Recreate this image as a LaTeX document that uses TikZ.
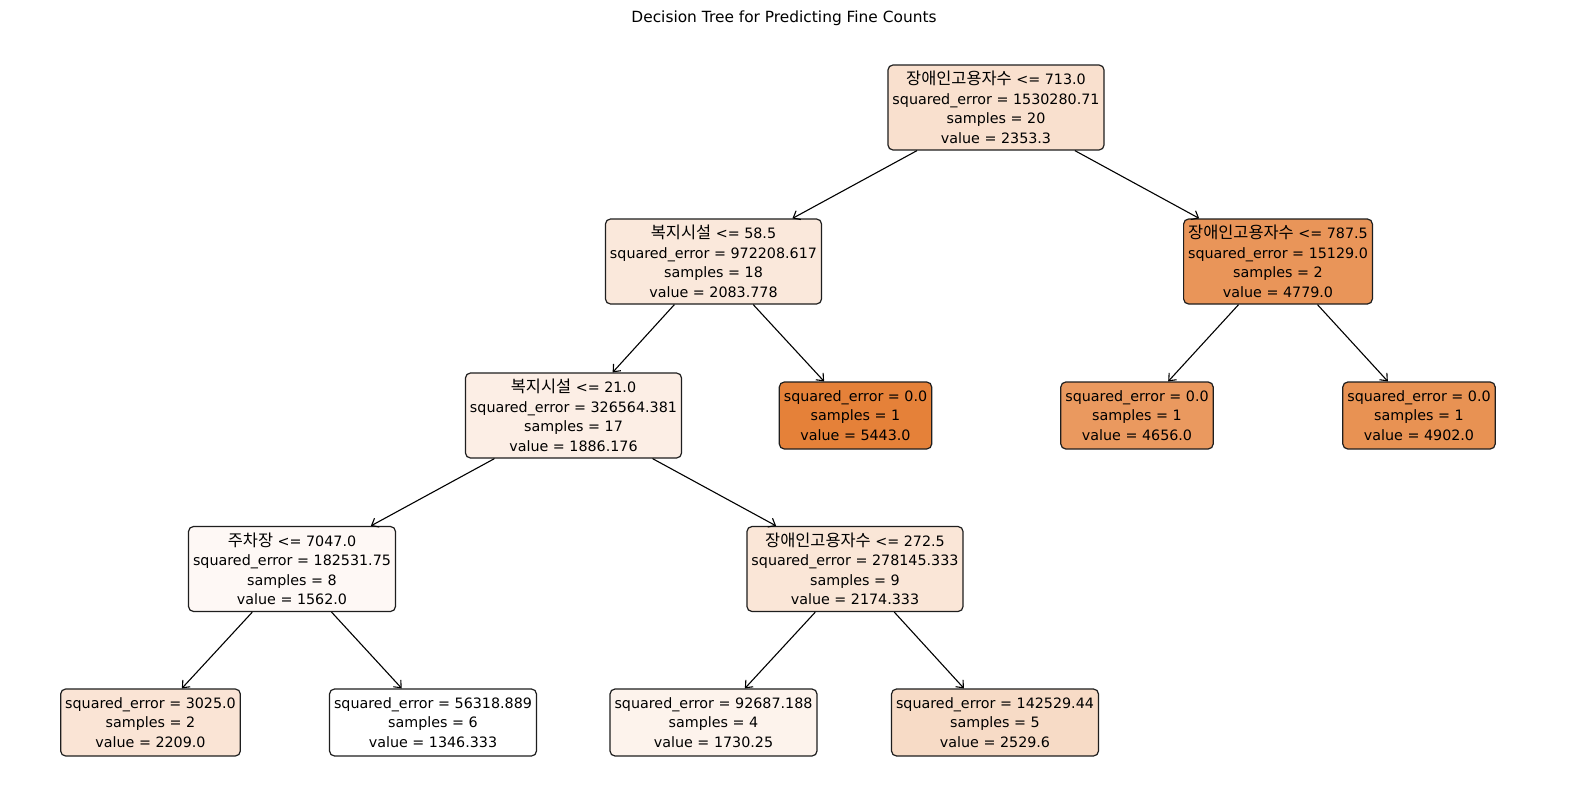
\documentclass[tikz,border=0pt]{standalone}
\usepackage{fontspec}
\setmainfont{DejaVu Sans}
\newfontfamily\kr{Noto Sans CJK KR}
\usepackage{tikz}
\usetikzlibrary{arrows.meta}
\definecolor{treeorange}{RGB}{229,129,57}
\definecolor{boxedge}{RGB}{30,30,30}
\newcommand{\feat}[1]{{\kr\fontsize{16.4}{19.5}\selectfont #1}}

\begin{document}
\begin{tikzpicture}[x=1pt, y=-1pt,
    every node/.style={font=\fontsize{14.3}{19.5}\selectfont},
    treebox/.style={draw=boxedge, line width=1.2pt, rounded corners=5pt, align=center, inner xsep=4.5pt, inner ysep=3.5pt},
    splitbox/.style={treebox, minimum height=85pt},
    leafbox/.style={treebox, minimum height=67pt},
    treearrow/.style={-{Straight Barb[length=6pt,width=10pt]}, line width=1.1pt, black}]
      % Canvas
      \useasboundingbox[fill=white] (0,0) rectangle (1570,811);
      \node[font=\fontsize{15.4}{18}\selectfont] (title) at (784,18) {Decision Tree for Predicting Fine Counts};

      % Split nodes
      \node[splitbox, fill=treeorange!24.6] (root) at (996,107.5) {\feat{장애인고용자수} <= 713.0\\squared\_error = 1530280.71\\samples = 20\\value = 2353.3};
      \node[splitbox, fill=treeorange!18.0] (n1) at (713.5,261.5) {\feat{복지시설} <= 58.5\\squared\_error = 972208.617\\samples = 18\\value = 2083.778};
      \node[splitbox, fill=treeorange!83.8] (n2) at (1278,261.5) {\feat{장애인고용자수} <= 787.5\\squared\_error = 15129.0\\samples = 2\\value = 4779.0};
      \node[splitbox, fill=treeorange!13.2] (n3) at (573.5,415.5) {\feat{복지시설} <= 21.0\\squared\_error = 326564.381\\samples = 17\\value = 1886.176};
      \node[splitbox, fill=treeorange!5.3] (n7) at (292,569) {\feat{주차장} <= 7047.0\\squared\_error = 182531.75\\samples = 8\\value = 1562.0};
      \node[splitbox, fill=treeorange!20.2] (n8) at (855,569) {\feat{장애인고용자수} <= 272.5\\squared\_error = 278145.333\\samples = 9\\value = 2174.333};

      % Leaves
      \node[leafbox, fill=treeorange] (n4) at (855.5,415.5) {squared\_error = 0.0\\samples = 1\\value = 5443.0};
      \node[leafbox, fill=treeorange!80.8] (n5) at (1137,415.5) {squared\_error = 0.0\\samples = 1\\value = 4656.0};
      \node[leafbox, fill=treeorange!86.8] (n6) at (1419,415.5) {squared\_error = 0.0\\samples = 1\\value = 4902.0};
      \node[leafbox, fill=treeorange!21.1] (n9) at (150.5,722.5) {squared\_error = 3025.0\\samples = 2\\value = 2209.0};
      \node[leafbox, fill=white] (n10) at (433,722.5) {squared\_error = 56318.889\\samples = 6\\value = 1346.333};
      \node[leafbox, fill=treeorange!9.4] (n11) at (713.5,722.5) {squared\_error = 92687.188\\samples = 4\\value = 1730.25};
      \node[leafbox, fill=treeorange!28.9] (n12) at (995,722.5) {squared\_error = 142529.44\\samples = 5\\value = 2529.6};

      % Edges
      \draw[treearrow] (root) -- (n1);
      \draw[treearrow] (root) -- (n2);
      \draw[treearrow] (n1) -- (n3);
      \draw[treearrow] (n1) -- (n4);
      \draw[treearrow] (n2) -- (n5);
      \draw[treearrow] (n2) -- (n6);
      \draw[treearrow] (n3) -- (n7);
      \draw[treearrow] (n3) -- (n8);
      \draw[treearrow] (n7) -- (n9);
      \draw[treearrow] (n7) -- (n10);
      \draw[treearrow] (n8) -- (n11);
      \draw[treearrow] (n8) -- (n12);
    \end{tikzpicture}
\end{document}
